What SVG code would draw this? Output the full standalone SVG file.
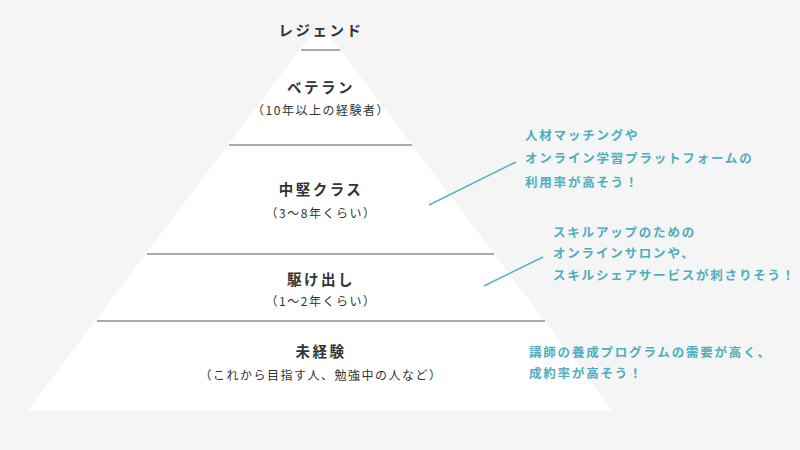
<svg xmlns="http://www.w3.org/2000/svg" width="800" height="450" viewBox="0 0 800 450">
<style>
.jp{font-family:"Noto Sans CJK JP","Noto Sans",sans-serif;text-anchor:middle;fill:#333}
.t{font-size:14.5px;font-weight:bold;letter-spacing:2.5px}
.s{font-size:12px;letter-spacing:1.5px}
.a{font-family:"Noto Sans CJK JP","Noto Sans",sans-serif;font-size:12.5px;font-weight:bold;letter-spacing:1.8px;fill:#4eaec0}
.div{stroke:#aaaaaa;stroke-width:2}
.con{stroke:#5bb5c6;stroke-width:1.6;fill:none}
</style>
<rect width="800" height="450" fill="#f4f5f4"/>
<g id="pyramid">
<polygon points="309.4,37 330.6,37 612,410 28,410" fill="#ffffff"/>
<line class="div" x1="301" y1="50" x2="340" y2="50"/>
<line class="div" x1="229" y1="145" x2="412" y2="145"/>
<line class="div" x1="147" y1="254" x2="494" y2="254"/>
<line class="div" x1="97" y1="321" x2="545" y2="321"/>
</g>
<g id="legend"><text class="jp t" x="321" y="36">レジェンド</text></g>
<g id="veteran">
<text class="jp t" x="321" y="93">ベテラン</text>
<text class="jp s" x="321" y="115">（10年以上の経験者）</text>
</g>
<g id="middle">
<text class="jp t" x="321" y="195">中堅クラス</text>
<text class="jp s" x="321" y="218">（3～8年くらい）</text>
</g>
<g id="beginner">
<text class="jp t" x="321" y="285">駆け出し</text>
<text class="jp s" x="321" y="306">（1～2年くらい）</text>
</g>
<g id="novice">
<text class="jp t" x="321" y="357">未経験</text>
<text class="jp s" x="321" y="380">（これから目指す人、勉強中の人など）</text>
</g>
<g id="note1">
<text class="a" x="525" y="140">人材マッチングや</text>
<text class="a" x="525" y="163">オンライン学習プラットフォームの</text>
<text class="a" x="525" y="187">利用率が高そう！</text>
</g>
<g id="note2">
<text class="a" x="553" y="237">スキルアップのための</text>
<text class="a" x="553" y="258">オンラインサロンや、</text>
<text class="a" x="553" y="280">スキルシェアサービスが刺さりそう！</text>
</g>
<g id="note3">
<text class="a" x="529" y="357">講師の養成プログラムの需要が高く、</text>
<text class="a" x="529" y="378">成約率が高そう！</text>
</g>
<g id="connectors">
<line class="con" x1="429" y1="205" x2="516" y2="162"/>
<line class="con" x1="484" y1="286" x2="543" y2="257"/>
</g>
</svg>
